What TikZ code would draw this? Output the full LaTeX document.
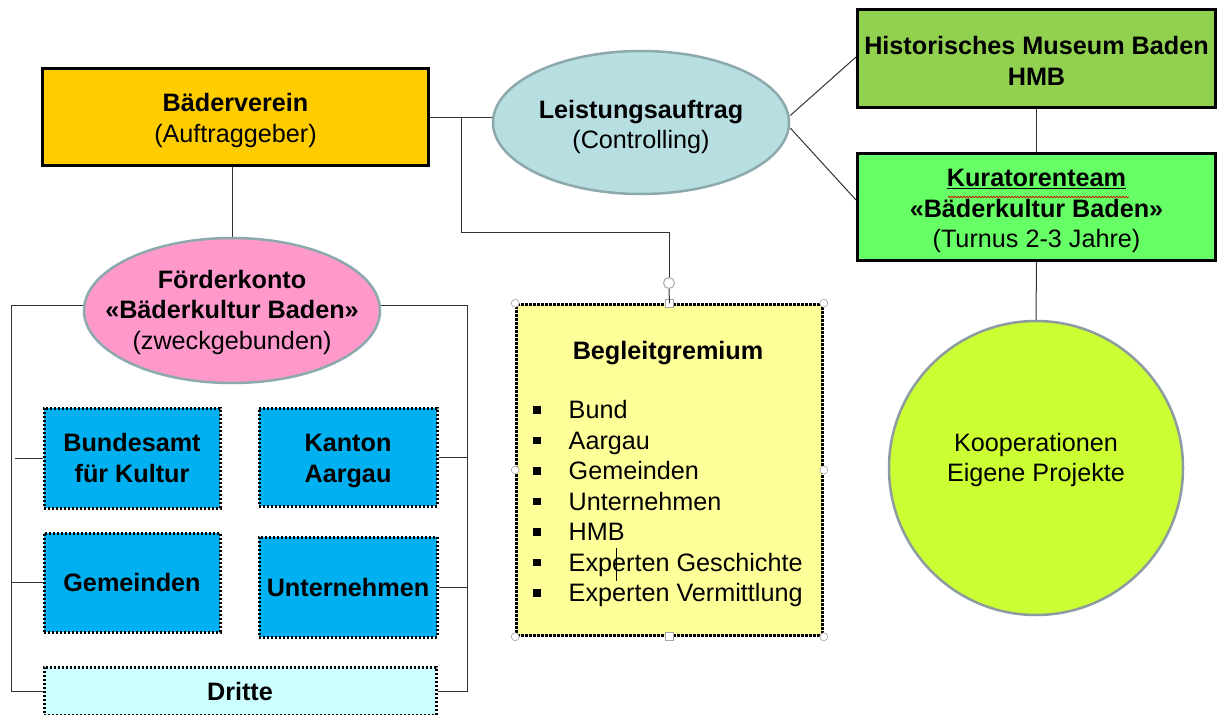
\documentclass[tikz,border=0pt]{standalone}
\usepackage{fontspec}
\setmainfont{Liberation Sans}
\usetikzlibrary{shapes.geometric,decorations.pathmorphing}
\definecolor{cOrange}{HTML}{FFCC00}
\definecolor{cAqua}{HTML}{B7DEE1}
\definecolor{cHmb}{HTML}{92D050}
\definecolor{cKur}{HTML}{66FF66}
\definecolor{cLime}{HTML}{CCFF33}
\definecolor{cPink}{HTML}{FF99CC}
\definecolor{cYellow}{HTML}{FFFF99}
\definecolor{cBlue}{HTML}{00B0F0}
\definecolor{cCyan}{HTML}{CCFFFF}
\definecolor{cEllBorder}{HTML}{8DA9AD}
\definecolor{cCircBorder}{HTML}{8C9CA0}
\definecolor{cLine}{HTML}{333333}
\newcommand{\bfnt}{\fontsize{25.2}{30.5}\selectfont}
\newcommand{\sqbullet}{\raisebox{5pt}{\rule{7.5pt}{7.5pt}}}
\tikzset{
  solidbox/.style={draw=black, line width=3pt, rectangle, inner sep=0pt},
  dotbox/.style={draw=black, line width=3pt, dash pattern=on 2pt off 2pt, rectangle, fill=cBlue, align=center, inner sep=0pt, font=\bfnt\bfseries},
  ellnode/.style={ellipse, draw=cEllBorder, line width=2.5pt, inner sep=0pt},
  txt/.style={align=center, inner sep=0pt, font=\bfnt},
  conn/.style={draw=cLine, line width=1pt},
  handlec/.style={circle, draw=gray!70, fill=white, line width=0.6pt, minimum size=8pt, inner sep=0pt},
  handles/.style={rectangle, draw=gray!70, fill=white, line width=0.6pt, minimum size=8pt, inner sep=0pt},
}
\begin{document}
\begin{tikzpicture}[x=1pt,y=-1pt]
\useasboundingbox (0,0) rectangle (1219,715);
\fill[white] (0,0) rectangle (1219,715);

% main nodes
\node[solidbox, fill=cOrange, minimum width=386pt, minimum height=97pt] (bv) at (235.5,117) {};
\node[txt] (bvtxt) at (235.5,120.5) {\textbf{Bäderverein}\\(Auftraggeber)};
\node[ellnode, fill=cAqua, minimum width=296pt, minimum height=143pt] (leist) at (641,122.5) {};
\node[txt] (leisttxt) at (641,127) {\textbf{Leistungsauftrag}\\(Controlling)};
\node[solidbox, fill=cHmb, minimum width=358pt, minimum height=98pt] (hmb) at (1036.5,58.5) {};
\node[txt] (hmbtxt) at (1036.5,61) {\textbf{Historisches Museum Baden}\\\textbf{HMB}};
\node[solidbox, fill=cKur, minimum width=358pt, minimum height=107pt] (kur) at (1036.5,207) {};
\node[txt] (kurtxt) at (1036.5,211)
  {\textbf{\underline{Kuratorenteam}}\\\textbf{«Bäderkultur Baden»}\\(Turnus 2-3 Jahre)};
\draw[red!85!black, line width=0.7pt, decorate, decoration={snake, amplitude=0.8pt, segment length=3pt}]
  (948,197) -- (1129,197);
\node[circle, draw=cCircBorder, fill=cLime, line width=2.5pt, minimum size=294pt, inner sep=0pt] (koop) at (1036,468) {};
\node[txt] (kooptxt) at (1036,460) {Kooperationen\\Eigene Projekte};

\node[ellnode, fill=cPink, minimum width=296pt, minimum height=145pt] (foerd) at (232,310.5) {};
\node[txt] (foerdtxt) at (232,312) {\textbf{Förderkonto}\\\textbf{«Bäderkultur Baden»}\\(zweckgebunden)};

% Begleitgremium
\node[rectangle, draw=black, fill=cYellow, line width=2.5pt, dash pattern=on 3pt off 1pt, minimum width=306pt, minimum height=331pt, inner sep=0pt] (begl) at (669.5,470) {};
\node[font=\bfnt\bfseries, inner sep=0pt] (begltitle) at (668,353) {Begleitgremium};
\node[font=\bfnt, anchor=north west, inner sep=0pt, align=left] (begllist) at (533,397)
  {\begin{tabular}{@{}l@{\hspace{28pt}}l@{}}
   \sqbullet & Bund\\
   \sqbullet & Aargau\\
   \sqbullet & Gemeinden\\
   \sqbullet & Unternehmen\\
   \sqbullet & HMB\\
   \sqbullet & Experten Geschichte\\
   \sqbullet & Experten Vermittlung
   \end{tabular}};
\draw[black, line width=0.7pt] (616,548) -- (616,581);

% selection handles
\node[handlec] (h1) at (begl.north west) {};
\node[handlec] (h2) at (begl.north east) {};
\node[handlec] (h3) at (begl.south west) {};
\node[handlec] (h4) at (begl.south east) {};
\node[handlec] (h5) at (begl.west) {};
\node[handlec] (h6) at (begl.east) {};
\node[handles] (h7) at (begl.north) {};
\node[handles] (h8) at (begl.south) {};
\node[circle, draw=gray!60, line width=1.2pt, minimum size=11pt, inner sep=0pt] (rot) at (669,283) {};

% funding boxes
\node[dotbox, minimum width=176pt, minimum height=100pt] (bund) at (132,458) {Bundesamt\\für Kultur};
\node[dotbox, minimum width=178pt, minimum height=98pt] (kanton) at (348,457) {};
\node[txt, font=\bfnt\bfseries] (kantontxt) at (348,461) {Kanton\\Aargau};
\node[dotbox, minimum width=176pt, minimum height=99pt] (gem) at (132,582.5) {Gemeinden};
\node[dotbox, minimum width=178pt, minimum height=100pt] (unter) at (348,587) {Unternehmen};
\node[dotbox, fill=cCyan, minimum width=392pt, minimum height=48pt] (dritte) at (240,691) {Dritte};

% connectors
\coordinate (j1) at (461,117);
\draw[conn] (bv.east) -- (bv.east -| leist.west);
\draw[conn] (j1) -- ++(0,115) -| (rot.north);
\draw[conn] (rot.south) -- (begl.north);
\draw[conn] ([yshift=7pt]leist.east) -- ([yshift=1.5pt]hmb.west);
\draw[conn] ([yshift=-5.5pt]leist.east) -- ([yshift=7pt]kur.west);
\draw[conn] (hmb.south) -- (kur.north);
\draw[conn] (kur.south) -- (koop.north);
\draw[conn] (foerd.north |- bv.south) -- (foerd.north);

\draw[conn] ([yshift=5.5pt]foerd.west) -- ++(-71,0) coordinate (L1) -- (L1 |- dritte.west) -- (dritte.west);
\draw[conn] (bund.west) -- ([xshift=3pt]bund.west -| L1);
\draw[conn] (gem.west) -- (gem.west -| L1);
\draw[conn] ([yshift=5.5pt]foerd.east) -- ++(86,0) coordinate (R1) -- (R1 |- dritte.east) -- (dritte.east);
\draw[conn] (kanton.east) -- (kanton.east -| R1);
\draw[conn] (unter.east) -- (unter.east -| R1);
\end{tikzpicture}
\end{document}
